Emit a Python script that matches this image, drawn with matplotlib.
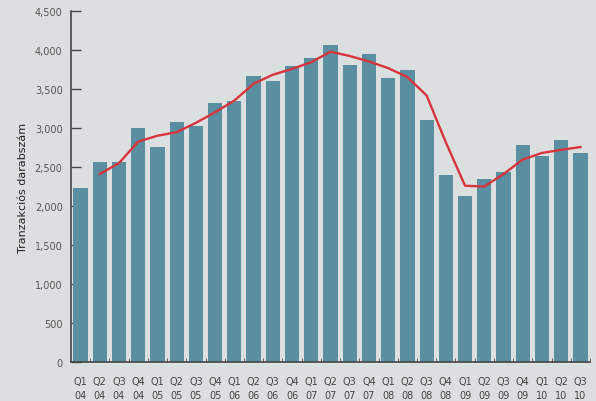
import matplotlib.pyplot as plt

# Quarterly data, Q1 2004 - Q3 2010
quarters = ['Q1', 'Q2', 'Q3', 'Q4'] * 6 + ['Q1', 'Q2', 'Q3']
years = ['04'] * 4 + ['05'] * 4 + ['06'] * 4 + ['07'] * 4 + ['08'] * 4 + ['09'] * 4 + ['10'] * 3
counts = [2230, 2565, 2560, 3000, 2760, 3080, 3030, 3325, 3345, 3670, 3595, 3790,
          3895, 4065, 3800, 3945, 3635, 3745, 3095, 2400, 2125, 2345, 2430, 2785,
          2640, 2850, 2685]
# trend line (starts at Q2 04)
trend = [2410, 2550, 2825, 2900, 2945, 3065, 3200, 3350, 3565, 3680, 3755,
         3840, 3975, 3920, 3850, 3765, 3650, 3415, 2815, 2260, 2250, 2410, 2595,
         2680, 2720, 2755]

bg = '#dcdfe0'
fig = plt.figure(figsize=(5.96, 4.02), dpi=100, facecolor=bg)
ax = fig.add_axes([0.119, 0.096, 0.871, 0.875], facecolor=bg)

x = list(range(len(counts)))
ax.bar(x, counts, width=0.74, color='#5a8fa2', zorder=2)
ax.plot(x[1:], trend, color='#d8343c', lw=1.7, zorder=3)

ax.set_xlim(-0.5, len(counts) - 0.5)
ax.set_ylim(0, 4500)
ax.set_yticks(range(0, 4501, 500))
ax.set_yticklabels([f'{v:,}' for v in range(0, 4501, 500)])
ax.set_xticks(x)
ax.set_xticklabels([f'{q}\n{y}' for q, y in zip(quarters, years)], fontsize=7,
                   color='#444444', linespacing=1.45)
ax.set_xticks([i + 0.5 for i in x], minor=True)
ax.tick_params(axis='x', which='major', length=0, pad=10)
ax.tick_params(axis='x', which='minor', direction='in', length=3, color='#555555')
ax.tick_params(axis='y', direction='in', length=7, width=1, color='#444444',
               labelsize=7, labelcolor='#555555', pad=6)

for s in ['top', 'right']:
    ax.spines[s].set_visible(False)
for s in ['left', 'bottom']:
    ax.spines[s].set_color('#444444')
    ax.spines[s].set_linewidth(1.2)

ax.set_ylabel('Tranzakciós darabszám', fontsize=8, color='#222222', labelpad=5)

plt.savefig('out.png', dpi=100, facecolor=bg)
